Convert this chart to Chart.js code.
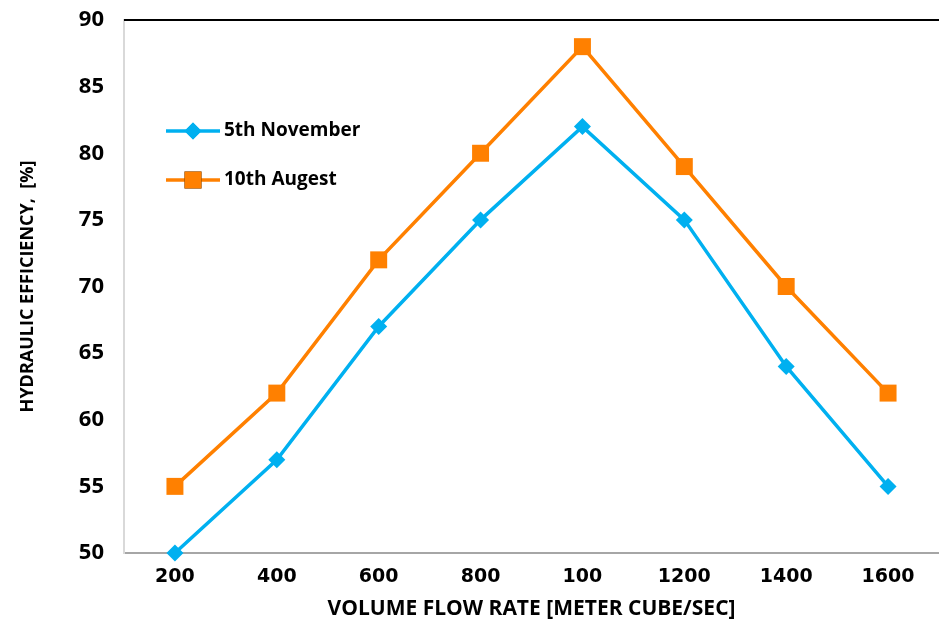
<!DOCTYPE html>
<html lang="en">
<head>
    <meta charset="UTF-8">
    <title>Hydraulic Efficiency</title>
    <script src="https://cdn.jsdelivr.net/npm/chart.js"></script>
    <style>
        * {
            margin: 0;
            padding: 0;
            box-sizing: border-box;
        }

        body {
            background-color: #ffffff;
            width: 939px;
            height: 630px;
            overflow: hidden;
        }

        #chart-container {
            width: 939px;
            height: 630px;
        }
    </style>
</head>
<body>
    <div id="chart-container">
        <canvas id="effChart"></canvas>
    </div>

    <script>
        // Flow rates (labels as printed on the axis)
        const flowRates = ['200', '400', '600', '800', '100', '1200', '1400', '1600'];
        const novemberEff = [50, 57, 67, 75, 82, 75, 64, 55];
        const augustEff = [55, 62, 72, 80, 88, 79, 70, 62];
        const yTicks = [50, 55, 60, 65, 70, 75, 80, 85, 90];

        const BLUE = '#00b0f0';
        const ORANGE = '#ff8000';
        const FONT = '"Open Sans", "DejaVu Sans", sans-serif';

        // Legend drawn inside the plot, plus the black frame line on top
        const extras = {
            id: 'extras',
            afterDatasetsDraw(chart) {
                const ctx = chart.ctx;
                const area = chart.chartArea;

                ctx.save();
                ctx.strokeStyle = '#000000';
                ctx.lineWidth = 2;
                ctx.beginPath();
                ctx.moveTo(area.left, area.top);
                ctx.lineTo(area.right, area.top);
                ctx.stroke();

                const rows = [
                    { ds: chart.data.datasets[0], y: 131 },
                    { ds: chart.data.datasets[1], y: 180 },
                ];
                for (const row of rows) {
                    ctx.strokeStyle = row.ds.borderColor;
                    ctx.lineWidth = row.ds.borderWidth;
                    ctx.beginPath();
                    ctx.moveTo(166, row.y);
                    ctx.lineTo(220, row.y);
                    ctx.stroke();
                    Chart.helpers.drawPoint(ctx, {
                        pointStyle: row.ds.pointStyle,
                        radius: row.ds.pointRadius,
                        rotation: 0,
                        borderWidth: 0,
                    }, 193, row.y);
                    ctx.fillStyle = row.ds.pointBackgroundColor;
                    ctx.fill();

                    ctx.fillStyle = '#000000';
                    ctx.font = 'bold 19px ' + FONT;
                    ctx.textBaseline = 'middle';
                    ctx.textAlign = 'left';
                    ctx.fillText(row.ds.label, 224, row.y);
                }
                ctx.restore();
            },
        };

        const ctx = document.getElementById('effChart').getContext('2d');
        const effChart = new Chart(ctx, {
            type: 'line',
            data: {
                labels: flowRates,
                datasets: [
                    {
                        label: '5th November',
                        data: novemberEff,
                        borderColor: BLUE,
                        borderWidth: 3.5,
                        pointStyle: 'rectRot',
                        pointRadius: 8.5,
                        pointBackgroundColor: BLUE,
                        pointBorderWidth: 0,
                        tension: 0,
                        clip: false,
                    },
                    {
                        label: '10th Augest',
                        data: augustEff,
                        borderColor: ORANGE,
                        borderWidth: 3.5,
                        pointStyle: 'rect',
                        pointRadius: 12,
                        pointBackgroundColor: ORANGE,
                        pointBorderWidth: 0,
                        tension: 0,
                        clip: false,
                    },
                ],
            },
            options: {
                responsive: true,
                maintainAspectRatio: false,
                animation: false,
                layout: {
                    autoPadding: false,
                    padding: { top: 20, right: 0, left: 0, bottom: 0 },
                },
                plugins: {
                    legend: { display: false },
                    tooltip: { enabled: false },
                },
                scales: {
                    x: {
                        offset: true,
                        grid: { display: false, drawTicks: false },
                        border: { display: true, color: '#a6a6a6', width: 2 },
                        ticks: {
                            color: '#000000',
                            padding: 13,
                            maxRotation: 0,
                            font: { family: '"DejaVu Sans", sans-serif', size: 19, weight: 'bold' },
                        },
                        title: {
                            display: true,
                            text: 'VOLUME FLOW RATE [METER CUBE/SEC]',
                            color: '#000000',
                            padding: { top: 4, bottom: 8 },
                            font: { family: FONT, size: 21, weight: 'bold' },
                        },
                        afterFit(scale) {
                            scale.height = 77;
                            scale.paddingLeft = 0;
                            scale.paddingRight = 0;
                        },
                    },
                    y: {
                        min: 50,
                        max: 90,
                        grid: { display: false, drawTicks: false },
                        border: { display: true, color: '#d9d9d9', width: 2 },
                        afterBuildTicks(scale) {
                            scale.ticks = yTicks.map((v) => ({ value: v }));
                        },
                        ticks: {
                            color: '#000000',
                            padding: 20,
                            font: { family: FONT, size: 22, weight: 'bold' },
                        },
                        title: {
                            display: true,
                            text: 'HYDRAULIC EFFICIENCY,  [%]',
                            color: '#000000',
                            padding: { top: 17, bottom: 0 },
                            font: { family: FONT, size: 18, weight: 'bold' },
                        },
                        afterFit(scale) {
                            scale.width = 124;
                            scale.paddingTop = 0;
                            scale.paddingBottom = 0;
                        },
                    },
                },
            },
            plugins: [extras],
        });
    </script>
</body>
</html>
